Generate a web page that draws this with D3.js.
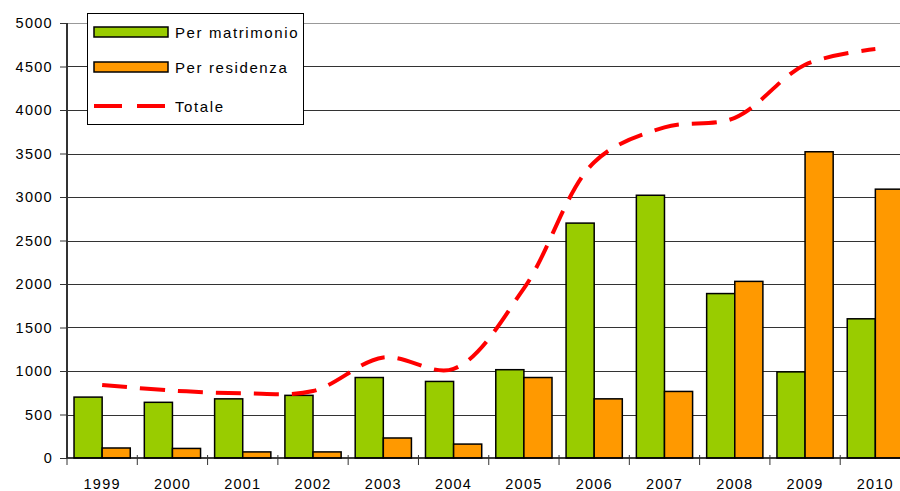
<!DOCTYPE html>
<html><head><meta charset="utf-8">
<script src="https://cdn.jsdelivr.net/npm/d3@7"></script>
<style>
html,body{margin:0;padding:0;background:#fff;}
svg{display:block;}
text{font-family:"Liberation Sans",Arial,sans-serif;fill:#000;}
</style></head><body>
<svg id="c" width="900" height="491"></svg>
<script>
const years = ["1999","2000","2001","2002","2003","2004","2005","2006","2007","2008","2009","2010"];
const perMatrimonio = [700,640,680,720,925,880,1015,2700,3020,1890,990,1600];
const perResidenza = [115,110,70,70,230,160,925,680,765,2030,3520,3090];
const totale = [840,775,745,770,1155,1025,1950,3400,3800,3910,4520,4700];
const yTicks = [0,500,1000,1500,2000,2500,3000,3500,4000,4500,5000];
const seriesNames = ["Per matrimonio","Per residenza","Totale"];

const svg = d3.select("#c");
const mLeft = 67, mRight = 910.5, mTop = 23, mBottom = 458;

const x = d3.scaleBand().domain(years).range([mLeft, mRight]).paddingInner(0).paddingOuter(0);
const inner = d3.scaleBand().domain([0,1]).range([0, x.bandwidth()]).paddingInner(0).paddingOuter(0.25);
const y = d3.scaleLinear().domain([0,5000]).range([mBottom, mTop]);

// gridlines
svg.append("g").selectAll("line").data(yTicks.filter(d=>d>0)).join("line")
  .attr("x1", mLeft).attr("x2", mRight)
  .attr("y1", d=>Math.round(y(d))+0.5).attr("y2", d=>Math.round(y(d))+0.5)
  .attr("stroke", d=> d===5000 ? "#999" : "#333").attr("stroke-width", 1);

// bars
const colors = ["#99CC00","#FF9900"];
const data = [perMatrimonio, perResidenza];
data.forEach((arr, si) => {
  svg.append("g").selectAll("rect").data(arr).join("rect")
    .attr("x", (d,i)=> x(years[i]) + inner(si))
    .attr("width", inner.bandwidth())
    .attr("y", d=>y(d))
    .attr("height", d=> mBottom - y(d))
    .attr("fill", colors[si]).attr("stroke", "#000").attr("stroke-width", 1.5);
});

// axes
const yAxis = svg.append("g").attr("transform", `translate(${mLeft},0)`)
  .call(d3.axisLeft(y).tickValues(yTicks).tickSize(7).tickPadding(8).tickFormat(d3.format("d")));
yAxis.select(".domain").attr("stroke","#333").attr("stroke-width",2).attr("d", `M0,${mTop}V${mBottom}`);
yAxis.selectAll(".tick line").attr("stroke","#333");
yAxis.selectAll("text").style("font-size","14.5px").style("letter-spacing","1.3px").attr("dx","1");

const xAxis = svg.append("g").attr("transform", `translate(0,${mBottom})`);
xAxis.append("line").attr("x1", mLeft).attr("x2", mRight).attr("y1",0).attr("y2",0).attr("stroke","#000").attr("stroke-width",1.5);
xAxis.selectAll("line.tk").data(years.concat(["end"])).join("line").attr("class","tk")
  .attr("x1", (d,i)=> mLeft + i*x.bandwidth()).attr("x2", (d,i)=> mLeft + i*x.bandwidth())
  .attr("y1", -3).attr("y2", 7).attr("stroke","#333").attr("stroke-width",1);
xAxis.selectAll("text").data(years).join("text")
  .attr("x", d=> x(d)+x.bandwidth()/2).attr("y", 30.5)
  .attr("text-anchor","middle").style("font-size","14.5px").style("letter-spacing","1.2px")
  .text(d=>d);

// total line
const line = d3.line().x((d,i)=> x(years[i])+x.bandwidth()/2).y(d=>y(d)).curve(d3.curveCatmullRom.alpha(0.5));
svg.append("path").datum(totale).attr("d", line).attr("fill","none")
  .attr("stroke","#FF0000").attr("stroke-width",4).attr("stroke-dasharray","25,13");

// legend
const lg = svg.append("g");
lg.append("rect").attr("x",87.5).attr("y",13.5).attr("width",216).attr("height",111)
  .attr("fill","#fff").attr("stroke","#000").attr("stroke-width",1);
const rows = [32, 67, 106];
[0,1].forEach(i=>{
  lg.append("rect").attr("x",94).attr("y",rows[i]-5).attr("width",74).attr("height",10)
    .attr("fill",colors[i]).attr("stroke","#000").attr("stroke-width",1.5);
});
lg.append("line").attr("x1",94).attr("x2",165).attr("y1",rows[2]).attr("y2",rows[2])
  .attr("stroke","#FF0000").attr("stroke-width",4).attr("stroke-dasharray","28,15");
seriesNames.forEach((n,i)=>{
  lg.append("text").attr("x",175).attr("y",rows[i]+5.5).text(n)
    .style("font-size","15px").style("letter-spacing","1.6px");
});
</script>
</body></html>
